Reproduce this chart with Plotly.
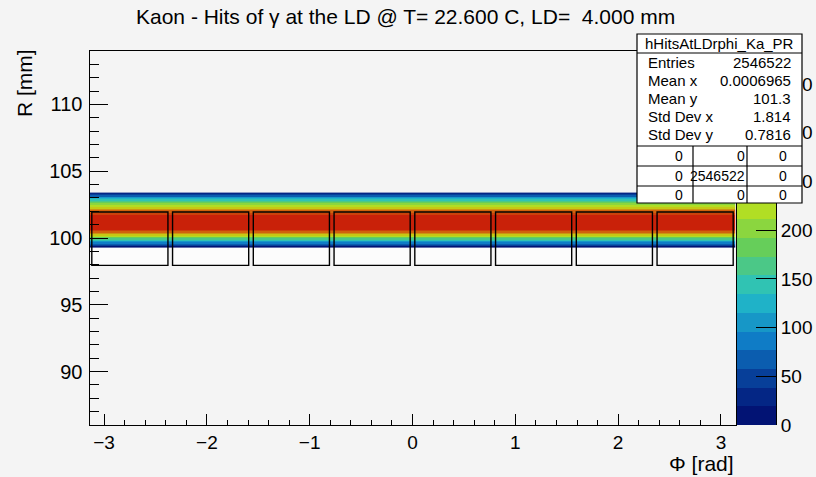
import math
import plotly.graph_objects as go

W, H = 816, 477
FONT = "Liberation Sans, Arial, sans-serif"

# ---------------- data ----------------
# R bin centres [mm] (0.1 mm bins) and counts per bin (uniform along phi)
r_bin_centers = [99.35, 99.45, 99.55, 99.65, 99.75, 99.85, 99.95, 100.05, 100.15, 100.25,
                 100.35, 100.45, 100.55, 100.65, 100.75, 100.85, 100.95, 101.05, 101.15, 101.25,
                 101.35, 101.45, 101.55, 101.65, 101.75, 101.85, 101.95, 102.05, 102.15, 102.25,
                 102.35, 102.45, 102.55, 102.65, 102.75, 102.85, 102.95, 103.05, 103.15, 103.25,
                 103.35]
r_profile_counts = [15, 40, 65, 90, 115, 140, 165, 190, 215, 240,
                    262, 282, 298, 308, 314, 318, 321, 322, 322, 321,
                    320, 318, 315, 311, 305, 296, 285, 272, 258, 244,
                    230, 215, 198, 180, 162, 145, 125, 100, 75, 45,
                    20]
n_phi_bins = 200
phi_min, phi_max = -math.pi, math.pi

# colour palette (ROOT kRainBow) and contour settings
palette_stops = [0.0, 0.125, 0.25, 0.375, 0.5, 0.625, 0.75, 0.875, 1.0]
palette_rgb = [(0, 0, 99), (5, 48, 142), (15, 124, 198), (35, 192, 201), (102, 206, 90),
               (196, 226, 22), (208, 97, 13), (199, 16, 8), (110, 0, 2)]
n_contours = 20
z_max = 384

# LD sector boxes
ld_phi_edges = [-3.14159, -2.35619, -1.57080, -0.78540, 0.0, 0.78540, 1.57080, 2.35619, 3.14159]
ld_gap = 0.045
ld_r_min, ld_r_max = 97.95, 101.95

# axis ranges / ticks
x_range = [-math.pi, math.pi]
y_range = [86, 114]
cbar_ticks = [0, 50, 100, 150, 200, 250, 300, 350]

# stats box
stats_name = "hHitsAtLDrphi_Ka_PR"
stats_labels = ["Entries", "Mean x", "Mean y", "Std Dev x", "Std Dev y"]
stats_values = ["2546522", "0.0006965", "101.3", "1.814", "0.7816"]
stats_grid = [["0", "0", "0"], ["0", "2546522", "0"], ["0", "0", "0"]]

title_text = "Kaon - Hits of &#947; at the LD @ T= 22.600 C, LD=  4.000 mm"


# ---------------- helpers ----------------
def interp_color(f):
    f = min(max(f, 0.0), 1.0)
    for k in range(len(palette_stops) - 1):
        a, b = palette_stops[k], palette_stops[k + 1]
        if a <= f <= b:
            t = (f - a) / (b - a)
            c = [palette_rgb[k][j] + t * (palette_rgb[k + 1][j] - palette_rgb[k][j]) for j in range(3)]
            return "rgb(%d,%d,%d)" % tuple(round(v) for v in c)
    return "rgb(110,0,2)"


colorscale = []
for i in range(n_contours):
    col = interp_color(min((i + 0.99) / n_contours, 1.0))
    colorscale.append([i / n_contours, col])
    colorscale.append([(i + 1) / n_contours, col])


def px(x):
    return x / W


def py(y):
    return 1 - y / H


# ---------------- figure ----------------
phi_step = (phi_max - phi_min) / n_phi_bins
phi_centers = [phi_min + (i + 0.5) * phi_step for i in range(n_phi_bins)]
z = [[c] * n_phi_bins for c in r_profile_counts]

fig = go.Figure()
fig.add_trace(go.Heatmap(
    x=phi_centers, y=r_bin_centers, z=z,
    colorscale=colorscale, zmin=0, zmax=z_max, showscale=False,
    zsmooth=False, hoverinfo="skip", xaxis="x", yaxis="y"))

# palette (colour bar) drawn as its own heatmap
step = z_max / n_contours
cb_y = [(i + 0.5) * step for i in range(n_contours)]
fig.add_trace(go.Heatmap(
    x=[0.5], y=cb_y, z=[[v] for v in cb_y],
    colorscale=colorscale, zmin=0, zmax=z_max, showscale=False,
    hoverinfo="skip", xaxis="x2", yaxis="y2"))

shapes = []
# LD sector boxes: white fill below, outline above
for k in range(len(ld_phi_edges) - 1):
    x0 = ld_phi_edges[k] + ld_gap / 2
    x1 = ld_phi_edges[k + 1] - ld_gap / 2
    shapes.append(dict(type="rect", xref="x", yref="y", x0=x0, x1=x1, y0=ld_r_min, y1=ld_r_max,
                       fillcolor="#fcfcfc", line=dict(width=0), layer="below"))
    shapes.append(dict(type="rect", xref="x", yref="y", x0=x0, x1=x1, y0=ld_r_min, y1=ld_r_max,
                       fillcolor="rgba(0,0,0,0)", line=dict(color="black", width=1.4), layer="above"))

# stats box
bx0, bx1, by0, by1 = 637, 802, 34, 203
shapes.append(dict(type="rect", xref="paper", yref="paper", x0=px(bx0), x1=px(bx1), y0=py(by1), y1=py(by0),
                   fillcolor="white", line=dict(color="black", width=1.2), layer="above"))
for yy in [53, 146, 166, 186]:
    shapes.append(dict(type="line", xref="paper", yref="paper", x0=px(bx0), x1=px(bx1), y0=py(yy), y1=py(yy),
                       line=dict(color="black", width=1.2), layer="above"))
for xx in [693, 747]:
    shapes.append(dict(type="line", xref="paper", yref="paper", x0=px(xx), x1=px(xx), y0=py(146), y1=py(by1),
                       line=dict(color="black", width=1.2), layer="above"))

ann = []
ann.append(dict(text=title_text, x=px(405), y=py(16), xref="paper", yref="paper",
                xanchor="center", yanchor="middle", showarrow=False,
                font=dict(family=FONT, size=21, color="black")))
ann.append(dict(text="R [mm]", x=px(24), y=py(47), xref="paper", yref="paper", textangle=-90,
                xanchor="center", yanchor="top", showarrow=False,
                font=dict(family=FONT, size=21, color="black")))
ann.append(dict(text="&#934; [rad]", x=px(736), y=py(463), xref="paper", yref="paper",
                xanchor="right", yanchor="middle", showarrow=False,
                font=dict(family=FONT, size=21, color="black")))
ann.append(dict(text=stats_name, x=px((bx0 + bx1) / 2), y=py(43), xref="paper", yref="paper",
                xanchor="center", yanchor="middle", showarrow=False,
                font=dict(family=FONT, size=15, color="black")))
row_y = [62, 80, 98, 117, 135]
for lab, val, yy in zip(stats_labels, stats_values, row_y):
    ann.append(dict(text=lab, x=px(646), y=py(yy), xref="paper", yref="paper",
                    xanchor="left", yanchor="middle", showarrow=False,
                    font=dict(family=FONT, size=15, color="black")))
    ann.append(dict(text=val, x=px(793), y=py(yy), xref="paper", yref="paper",
                    xanchor="right", yanchor="middle", showarrow=False,
                    font=dict(family=FONT, size=15, color="black")))
cell_x = [685, 747, 789]
cell_y = [156, 176, 195]
for r, row in enumerate(stats_grid):
    for c, val in enumerate(row):
        ann.append(dict(text=val, x=px(cell_x[c]), y=py(cell_y[r]), xref="paper", yref="paper",
                        xanchor="right", yanchor="middle", showarrow=False,
                        font=dict(family=FONT, size=14, color="black")))

tickfont = dict(family=FONT, size=19, color="black")
fig.update_layout(
    width=W, height=H, margin=dict(l=0, r=0, t=0, b=0),
    paper_bgcolor="#f4f4f4", plot_bgcolor="#f4f4f4",
    showlegend=False, shapes=shapes, annotations=ann,
    xaxis=dict(domain=[px(89.5), px(735.5)], range=x_range, anchor="y",
               showgrid=False, zeroline=False, showline=True, mirror=True, linecolor="black", linewidth=1,
               ticks="inside", ticklen=11, tickwidth=1, tickcolor="black", dtick=1, tick0=0,
               minor=dict(ticks="inside", ticklen=5, dtick=0.2, tick0=0, tickcolor="black", showgrid=False),
               tickfont=tickfont, automargin=False),
    yaxis=dict(domain=[py(425), py(51)], range=y_range, anchor="x",
               showgrid=False, zeroline=False, showline=True, mirror=True, linecolor="black", linewidth=1,
               ticks="inside", ticklen=18, tickwidth=1, tickcolor="black", dtick=5, tick0=0,
               minor=dict(ticks="inside", ticklen=9, dtick=1, tick0=0, tickcolor="black", showgrid=False),
               tickfont=dict(family=FONT, size=20, color="black"), ticklabelstandoff=2, automargin=False),
    xaxis2=dict(domain=[px(737), px(776)], range=[0, 1], anchor="y2", visible=False),
    yaxis2=dict(domain=[py(425), py(51)], range=[0, z_max], anchor="x2", side="right",
                showgrid=False, zeroline=False, showline=True, mirror=True, linecolor="black", linewidth=1,
                ticks="inside", ticklen=20, tickwidth=1, tickcolor="black",
                tickvals=cbar_ticks, tickfont=tickfont, automargin=False),
)

fig.write_html(
    "out.html",
    post_script="document.documentElement.style.margin='0';document.body.style.margin='0';"
                "document.documentElement.style.overflow='hidden';document.body.style.overflow='hidden';",
)
